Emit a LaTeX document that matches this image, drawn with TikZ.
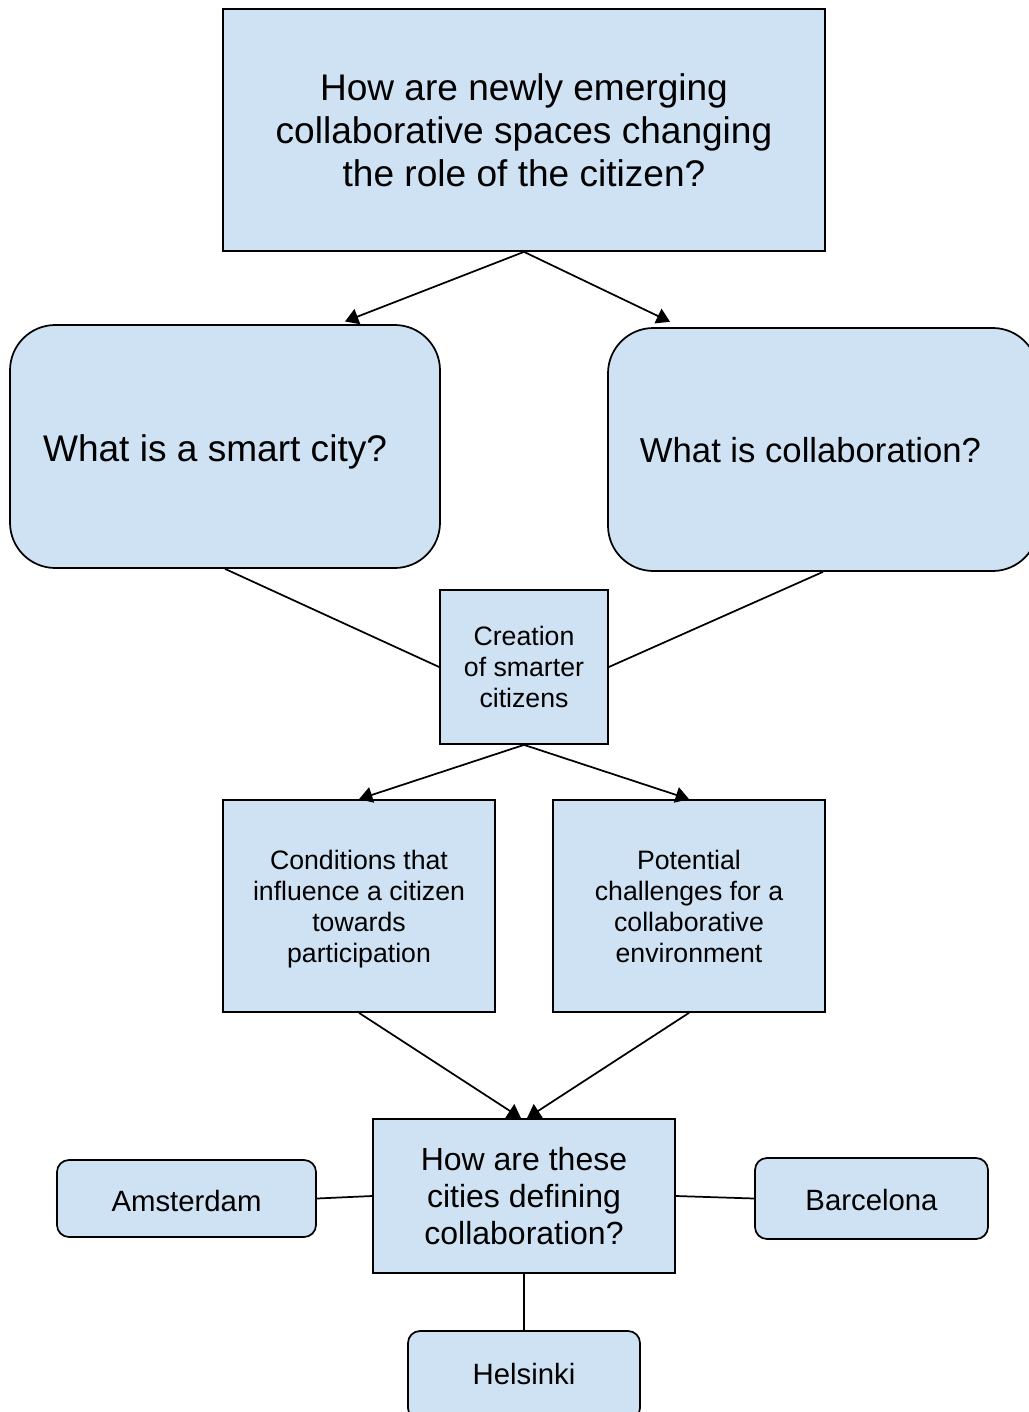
\documentclass[tikz,border=0pt]{standalone}
\usepackage{fontspec}
\setmainfont{Liberation Sans}
\usetikzlibrary{arrows.meta}
\definecolor{boxfill}{HTML}{CFE2F3}
\newcommand{\shiftdown}[2]{\raisebox{-#1}[\height][\depth]{#2}}
\tikzset{
  box/.style={draw=black, fill=boxfill, line width=1.3pt, align=center, inner sep=0pt, anchor=center},
  biground/.style={box, rounded corners=34pt},
  smallround/.style={box, rounded corners=9pt},
  arr/.style={line width=1.3pt, -{Triangle[width=12pt,length=10pt]}},
  con/.style={line width=1.3pt},
}
\begin{document}
\begin{tikzpicture}[x=0.75pt,y=-0.75pt]
\useasboundingbox (0,0) rectangle (1028,1412);
\node[box, minimum width=451.5pt, minimum height=181.5pt, font=\fontsize{27.8}{32.2}\selectfont] (top) at (524,130)
  {How are newly emerging\\collaborative spaces changing\\the role of the citizen?};
\node[biground, minimum width=322.5pt, minimum height=182.25pt, font=\fontsize{27.8}{32.2}\selectfont] (L) at (225,446.5)
  {\shiftdown{3.75pt}{What is a smart city?}\hspace{15pt}};
\node[biground, minimum width=322.5pt, minimum height=182.25pt, font=\fontsize{26}{30}\selectfont] (R) at (823,449.5)
  {\shiftdown{0.75pt}{What is collaboration?}\hspace{18.75pt}};
\node[box, minimum width=126pt, minimum height=115.5pt, font=\fontsize{20}{23.25}\selectfont] (cre) at (524,667)
  {Creation\\of smarter\\citizens};
\node[box, minimum width=204pt, minimum height=159pt, font=\fontsize{20}{23.25}\selectfont] (cond) at (359,906)
  {\shiftdown{3pt}{\begin{tabular}{@{}c@{}}Conditions that\\influence a citizen\\towards\\participation\end{tabular}}};
\node[box, minimum width=204pt, minimum height=159pt, font=\fontsize{20}{23.25}\selectfont] (pot) at (689,906)
  {Potential\\challenges for a\\collaborative\\environment};
\node[box, minimum width=226.5pt, minimum height=115.5pt, font=\fontsize{24}{27.75}\selectfont] (how) at (524,1196)
  {How are these\\cities defining\\collaboration?};
\node[smallround, minimum width=194.25pt, minimum height=57.75pt, font=\fontsize{22}{26}\selectfont] (ams) at (186.5,1198.5) {\shiftdown{2.25pt}{Amsterdam}};
\node[smallround, minimum width=174.75pt, minimum height=60.75pt, font=\fontsize{22}{26}\selectfont] (bar) at (871.5,1198.5) {\shiftdown{1.5pt}{Barcelona}};
\node[smallround, minimum width=174pt, minimum height=66.75pt, font=\fontsize{22}{26}\selectfont] (hel) at (524,1375.5) {\shiftdown{-1.5pt}{Helsinki}};

\draw[arr] (top.south) -- ([xshift=90pt,yshift=2pt]L.north);
\draw[arr] (top.south) -- ([xshift=-114.75pt,yshift=4pt]R.north);
\draw[con] (L.south) -- (cre.west);
\draw[con] (R.south) -- (cre.east);
\draw[arr] (cre.south) -- (cond.north);
\draw[arr] (cre.south) -- (pot.north);
\draw[arr] (cond.south) -- ([xshift=-2.25pt]how.north);
\draw[arr] (pot.south) -- ([xshift=2.25pt]how.north);
\draw[con] (ams.east) -- (how.west);
\draw[con] (how.east) -- (bar.west);
\draw[con] (how.south) -- (hel.north);
\end{tikzpicture}
\end{document}
